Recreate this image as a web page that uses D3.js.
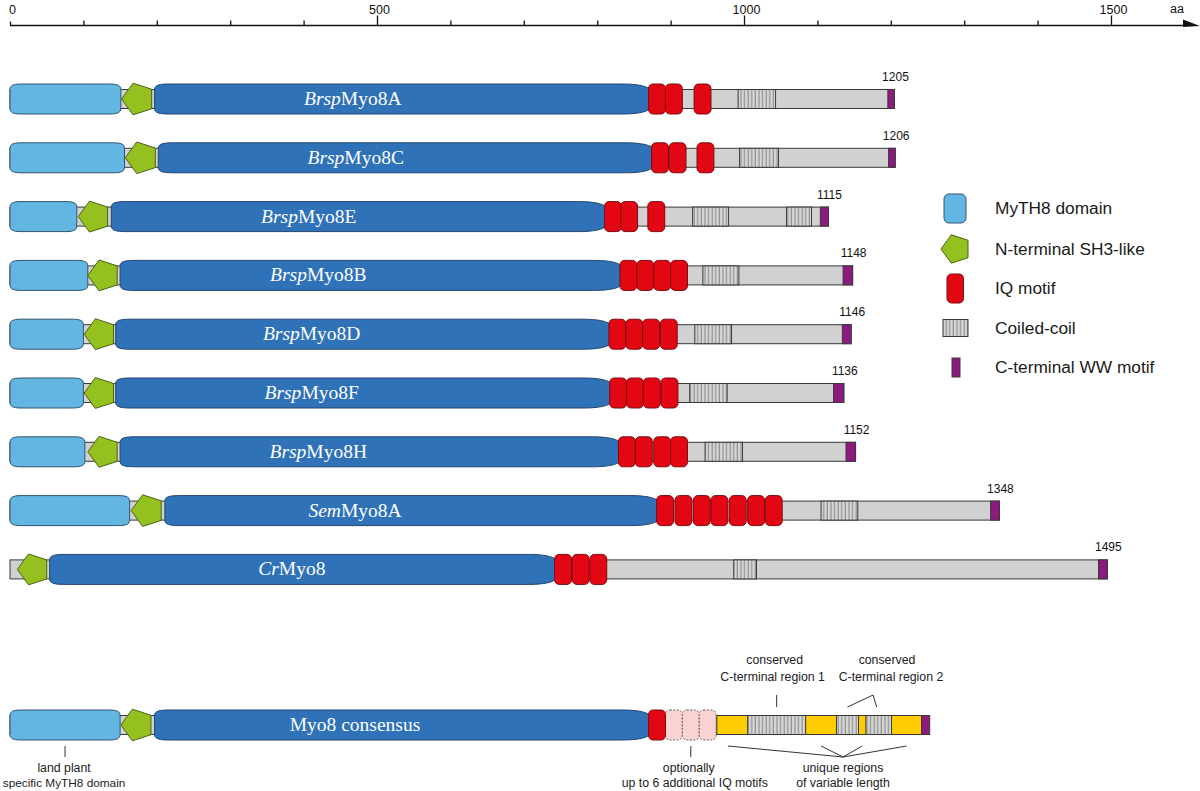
<!DOCTYPE html>
<html><head><meta charset="utf-8">
<script src="https://cdn.jsdelivr.net/npm/d3@7"></script>
<style>body{margin:0;background:#fff}svg{display:block}</style>
</head><body><svg id="c" width="1200" height="791"></svg>
<script>
// ---------- data (amino-acid positions) ----------
const prefixes = ["Brsp","Brsp","Brsp","Brsp","Brsp","Brsp","Brsp","Sem","Cr"];
const suffixes = ["Myo8A","Myo8C","Myo8E","Myo8B","Myo8D","Myo8F","Myo8H","Myo8A","Myo8"];
const lengths  = [1205,1206,1115,1148,1146,1136,1152,1348,1495];
const myth8    = [[0,151],[0,156],[0,91],[0,106],[0,100],[0,100],[0,102],[0,163],null];
const sh3      = [[152,193],[157,198],[93,133],[106,146],[101,141],[101,141],[106,146],[165,206],[10,50]];
const motor    = [[197,870],[202,874],[138,810],[150,831],[144,816],[144,817],[150,829],[211,881],[54,742]];
const iqStarts = [[870,893,932],[874,898,936],[810,832,869],[831,854,877,900],[816,839,862,886],
                  [817,840,863,887],[829,852,877,900],[881,906,931,955,980,1005,1029],[742,766,790]];
const coiled   = [[[992,1043]],[[994,1047]],[[930,979],[1058,1092]],[[944,993]],[[933,983]],
                  [[926,977]],[[947,998]],[[1105,1155]],[[986,1017]]];
const wwMotif  = [[1196,1205],[1197,1206],[1104,1115],[1135,1148],[1134,1146],[1122,1136],[1139,1152],[1336,1348],[1483,1495]];
const labelAt  = [467,471,407,420,411,411,420,470,384];

// consensus
const consLength = 1253, consMyth8 = [0,150], consSh3 = [151,192], consMotor = [197,870];
const consIq = [870], consOptIq = [893,916,939];
const consUnique = [963,1242];
const consCoiled = [[1005,1084],[1126,1156],[1166,1201]];
const consWw = [1242,1253];

const majorTicks = [0,500,1000,1500];
const minorTicks = [100,200,300,400,600,700,800,900,1100,1200,1300,1400];
const legendLabels = ["MyTH8 domain","N-terminal SH3-like","IQ motif","Coiled-coil","C-terminal WW motif"];
const IQ_LEN = 23;

// ---------- setup ----------
const svg = d3.select("#c");
const x = d3.scaleLinear().domain([0,1500]).range([10,1111]);
const rowY = d3.scalePoint().domain(d3.range(lengths.length)).range([99,569.4]);
const consY = 725;
const C = {lb:"#63b5e2", db:"#2f72b8", green:"#94c11f", red:"#e30613", grey:"#d1d1d1",
           purple:"#8c1a7f", yellow:"#fecc00", pink:"#f8d3d1", edge:"#3a3a3a"};
const SANS = "Liberation Sans, Arial, sans-serif";

const defs = svg.append("defs");
const pat = defs.append("pattern").attr("id","cc").attr("patternUnits","userSpaceOnUse")
  .attr("width",3.6).attr("height",10);
pat.append("rect").attr("width",3.6).attr("height",10).attr("fill","#d6d6d6");
pat.append("rect").attr("x",2.4).attr("width",1.1).attr("height",10).attr("fill","#8a8a8a");

// ---------- axis ----------
const ax = svg.append("g");
const axY = 25.5;
ax.append("line").attr("x1",x(0)).attr("x2",1186).attr("y1",axY).attr("y2",axY)
  .attr("stroke","#111").attr("stroke-width",1.6);
ax.append("path").attr("d",`M1183,19.5 L1200,26 L1183,27 Z`).attr("fill","#111");
const gMinor = ax.append("g").attr("transform",`translate(0,${axY})`)
  .call(d3.axisTop(x).tickValues(minorTicks).tickSize(5).tickFormat(""));
const gMajor = ax.append("g").attr("transform",`translate(0,${axY})`)
  .call(d3.axisTop(x).tickValues(majorTicks).tickSize(10).tickFormat(d3.format("d")));
[gMinor,gMajor].forEach(g=>{
  g.select(".domain").remove();
  g.selectAll(".tick line").attr("stroke","#111").attr("stroke-width",1.3);
  g.selectAll(".tick text").attr("font-family",SANS).attr("font-size",12.5).attr("fill","#111");
});
gMajor.selectAll(".tick line").attr("y2",d=>d===0?-4:-10);
gMajor.selectAll(".tick text").attr("dx",2).attr("y",-12);
ax.append("text").attr("x",1170).attr("y",13).text("aa")
  .attr("font-family",SANS).attr("font-size",12.5).attr("fill","#111");

// ---------- shape helpers ----------
function motorPath(x0,x1,cy){
  const h=15, hs=9.5;
  return `M${x0},${cy-hs} C${x0},${cy-h+1} ${x0+5},${cy-h} ${x0+15},${cy-h} L${x1-30},${cy-h}
   C${x1-12},${cy-h} ${x1},${cy-h+3} ${x1},${cy-5} L${x1},${cy+5}
   C${x1},${cy+h-3} ${x1-12},${cy+h} ${x1-30},${cy+h} L${x0+15},${cy+h}
   C${x0+5},${cy+h} ${x0},${cy+h-1} ${x0},${cy+hs} Z`;
}
function mythPath(x0,x1,cy){
  const h=15, r=10;
  return `M${x0},${cy-h+5} Q${x0},${cy-h} ${x0+r},${cy-h} L${x1-r},${cy-h} Q${x1},${cy-h} ${x1},${cy-h+5}
   L${x1},${cy+h-5} Q${x1},${cy+h} ${x1-r},${cy+h} L${x0+r},${cy+h} Q${x0},${cy+h} ${x0},${cy+h-5} Z`;
}
function pentagon(cx,cy,R){
  return d3.range(5).map(i=>{const a=Math.PI+i*2*Math.PI/5;return [cx+R*Math.cos(a),cy+R*Math.sin(a)];});
}
function drawPent(g,x0,x1,cy){
  const R=(x1-x0)/1.809;
  g.append("polygon").attr("points",pentagon(x0+R,cy,R).map(p=>p.join(",")).join(" "))
   .attr("fill",C.green).attr("stroke","#4b6312").attr("stroke-width",1);
}
function drawIq(g,s,cy,opt){
  g.append("rect").attr("x",x(s)).attr("y",cy-15).attr("width",x(IQ_LEN)-x(0)).attr("height",30)
   .attr("rx",4.5).attr("fill",opt?C.pink:C.red)
   .attr("stroke",opt?"#666":"#7d0a10").attr("stroke-width",1)
   .attr("stroke-dasharray",opt?"2,1.5":null);
}
function bar(g,a,b,cy,fill){
  g.append("rect").attr("x",x(a)).attr("y",cy-9.5).attr("width",x(b)-x(a)).attr("height",19)
   .attr("fill",fill).attr("stroke",C.edge).attr("stroke-width",1);
}
function nameLabel(g,cx,cy,pre,suf){
  const t=g.append("text").attr("x",cx).attr("y",cy+6).attr("text-anchor","middle")
   .attr("font-family","Liberation Serif, Times New Roman, serif").attr("font-size",19.5).attr("fill","#fff");
  if(pre) t.append("tspan").attr("font-style","italic").text(pre);
  t.append("tspan").text(suf);
}

// ---------- proteins ----------
lengths.forEach((len,i)=>{
  const cy=rowY(i), g=svg.append("g");
  bar(g,0,len,cy,C.grey);
  coiled[i].forEach(c=>bar(g,c[0],c[1],cy,"url(#cc)"));
  bar(g,wwMotif[i][0],wwMotif[i][1],cy,C.purple);
  g.append("path").attr("d",motorPath(x(motor[i][0]),x(motor[i][1])+4,cy))
   .attr("fill",C.db).attr("stroke","#23456e").attr("stroke-width",1);
  if(myth8[i]) g.append("path").attr("d",mythPath(x(myth8[i][0]),x(myth8[i][1]),cy))
   .attr("fill",C.lb).attr("stroke","#2f5670").attr("stroke-width",1);
  drawPent(g,x(sh3[i][0]),x(sh3[i][1]),cy);
  iqStarts[i].forEach(s=>drawIq(g,s,cy,false));
  nameLabel(g,x(labelAt[i]),cy,prefixes[i],suffixes[i]);
  g.append("text").attr("x",x(len)+1).attr("y",cy-18).attr("text-anchor","middle").text(len)
   .attr("font-family",SANS).attr("font-size",12).attr("fill","#111");
});

// ---------- consensus ----------
{
  const cy=consY, g=svg.append("g");
  bar(g,0,consUnique[0],cy,C.grey);
  bar(g,consUnique[0],consUnique[1],cy,C.yellow);
  consCoiled.forEach(c=>bar(g,c[0],c[1],cy,"url(#cc)"));
  bar(g,consWw[0],consWw[1],cy,C.purple);
  g.append("path").attr("d",motorPath(x(consMotor[0]),x(consMotor[1])+4,cy))
   .attr("fill",C.db).attr("stroke","#23456e");
  g.append("path").attr("d",mythPath(x(consMyth8[0]),x(consMyth8[1]),cy))
   .attr("fill",C.lb).attr("stroke","#2f5670");
  drawPent(g,x(consSh3[0]),x(consSh3[1]),cy);
  consOptIq.forEach(s=>drawIq(g,s,cy,true));
  consIq.forEach(s=>drawIq(g,s,cy,false));
  nameLabel(g,x(470),cy,null,"Myo8 consensus");

  const A = svg.append("g").attr("stroke","#333").attr("stroke-width",1);
  const T = svg.append("g").attr("font-family",SANS)
    .attr("font-size",12.3).attr("fill","#222").attr("text-anchor","middle");
  const below = cy+21, lower = cy+32;
  // land plant
  const lp = x(75);
  A.append("line").attr("x1",lp).attr("x2",lp).attr("y1",below).attr("y2",lower);
  T.append("text").attr("x",lp-1).attr("y",772).text("land plant");
  T.append("text").attr("x",lp-1).attr("y",787).attr("font-size",11.8).text("specific MyTH8 domain");
  // optional IQ
  const oq = x(consOptIq[1]+IQ_LEN/2);
  A.append("line").attr("x1",oq).attr("x2",oq).attr("y1",below).attr("y2",lower);
  T.append("text").attr("x",oq-2).attr("y",772).text("optionally");
  T.append("text").attr("x",oq+4).attr("y",787).text("up to 6 additional IQ motifs");
  // unique regions
  const ux = 843, uy = lower;
  const uTargets = [(consUnique[0]+consCoiled[0][0])/2-6,(consCoiled[0][1]+consCoiled[1][0])/2,
                    (consCoiled[1][1]+consCoiled[2][0])/2, (consCoiled[2][1]+consWw[0])/2];
  uTargets.forEach(t=>A.append("line").attr("x1",ux).attr("y1",uy).attr("x2",x(t)).attr("y2",below));
  T.append("text").attr("x",ux).attr("y",772).text("unique regions");
  T.append("text").attr("x",ux).attr("y",787).text("of variable length");
  // conserved 1
  const c1 = x((consCoiled[0][0]+consCoiled[0][1])/2);
  A.append("line").attr("x1",c1).attr("x2",c1).attr("y1",cy-30).attr("y2",cy-18);
  T.append("text").attr("x",c1-2).attr("y",664).text("conserved");
  T.append("text").attr("x",c1-4).attr("y",681).text("C-terminal region 1");
  // conserved 2
  const apx = 873, apy = cy-30;
  A.append("line").attr("x1",apx).attr("y1",apy).attr("x2",x((consCoiled[1][0]+consCoiled[1][1])/2)).attr("y2",cy-18);
  A.append("line").attr("x1",apx).attr("y1",apy).attr("x2",x((consCoiled[2][0]+consCoiled[2][1])/2)-2).attr("y2",cy-18);
  T.append("text").attr("x",887).attr("y",664).text("conserved");
  T.append("text").attr("x",891).attr("y",681).text("C-terminal region 2");
}

// ---------- legend ----------
{
  const lg = svg.append("g");
  const ys = [208,249,288,328,367];
  lg.append("rect").attr("x",944).attr("y",194).attr("width",22).attr("height",29).attr("rx",5)
    .attr("fill",C.lb).attr("stroke","#2f5670");
  drawPent(lg,941,968,249);
  lg.append("rect").attr("x",947).attr("y",274).attr("width",16.5).attr("height",29).attr("rx",4.5)
    .attr("fill",C.red).attr("stroke","#7d0a10");
  lg.append("rect").attr("x",943).attr("y",319.5).attr("width",25).attr("height",17)
    .attr("fill","url(#cc)").attr("stroke",C.edge);
  lg.append("rect").attr("x",952).attr("y",358).attr("width",8).attr("height",19)
    .attr("fill",C.purple).attr("stroke",C.edge);
  lg.selectAll("text.l").data(legendLabels).join("text").attr("class","l")
    .attr("x",995).attr("y",(d,i)=>ys[i]+6).text(d=>d)
    .attr("font-family",SANS).attr("font-size",17.3).attr("fill","#1a1a1a");
}
</script></body></html>
